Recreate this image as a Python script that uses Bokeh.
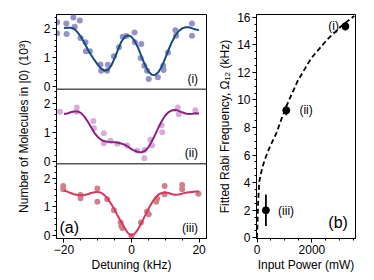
from bokeh.plotting import figure
from bokeh.models import FixedTicker, Range1d, Span, Label
from bokeh.layouts import row
from bokeh.embed import file_html
from bokeh.resources import INLINE

FONT = "Liberation Sans"

# ---------------- Panel (a): detuning scans ----------------
det_i = [-22.0, -22.0, -19.3, -19.2, -17.2, -16.8, -15.3, -15.1, -13.6, -13.5, -12.3,
         -9.2, -9.0, -7.2, -7.0, -5.2, -3.7, -2.6, -1.6, 0.9, 1.0, 2.9, 2.7, 3.8, 4.6,
         5.1, 7.8, 9.4, 9.5, 10.8, 13.0, 13.2, 17.9, 17.9]
mol_i = [2.22, 1.84, 2.18, 1.82, 2.39, 2.07, 2.28, 1.68, 1.53, 1.22, 1.22,
         0.76, 0.55, 0.55, 0.75, 1.05, 1.36, 1.72, 1.75, 1.87, 1.53, 1.47, 0.99, 0.72, 0.55,
         0.26, 0.32, 0.72, 0.57, 1.18, 1.95, 1.76, 2.18, 1.76]

det_ii = [-21.2, -16.2, -16.2, -11.3, -11.1, -8.2, -8.2, -6.2, -4.2, -1.3, 1.7, 3.8, 3.9,
          5.6, 6.1, 8.9, 9.1, 13.7, 14.0, 18.9]
mol_ii = [1.71, 1.86, 1.71, 1.39, 1.14, 0.97, 0.62, 0.71, 0.60, 0.54, 0.36, 0.10, 0.39,
          0.74, 0.54, 1.24, 1.00, 1.86, 1.62, 1.76]

det_iii = [-20.2, -20.2, -15.1, -15.1, -10.1, -10.1, -7.2, -5.2, -3.2, -3.0, -2.7, 0.0,
           2.8, 4.6, 5.1, 7.3, 7.6, 9.8, 9.8, 15.0, 15.0, 19.8]
mol_iii = [1.72, 1.61, 1.41, 1.30, 1.64, 1.18, 1.27, 0.89, 0.46, 0.34, 0.27, 0.0,
           0.46, 0.84, 0.75, 1.18, 1.28, 1.72, 1.44, 1.76, 1.61, 1.46]

fit_det = [-20, -19, -18, -17, -16, -15, -14, -13, -12, -11, -10, -9, -8, -7, -6, -5, -4,
           -3, -2, -1, 0, 1, 2, 3, 4, 5, 6, 7, 8, 9, 10, 11, 12, 13, 14, 15, 16, 17, 18, 19, 20]
fit_i = [2.02, 2.03, 2.03, 2.00, 1.88, 1.72, 1.52, 1.30, 1.10, 0.92, 0.76, 0.62, 0.55, 0.57,
         0.72, 0.98, 1.28, 1.55, 1.72, 1.77, 1.72, 1.56, 1.33, 1.03, 0.74, 0.52, 0.41, 0.40,
         0.50, 0.70, 0.98, 1.28, 1.55, 1.77, 1.92, 2.01, 2.05, 2.05, 2.01, 1.97, 1.95]
fit_ii = [1.63, 1.65, 1.69, 1.72, 1.72, 1.67, 1.55, 1.38, 1.18, 0.98, 0.84, 0.74, 0.69, 0.67,
          0.66, 0.66, 0.64, 0.61, 0.57, 0.50, 0.42, 0.36, 0.32, 0.31, 0.36, 0.48, 0.68, 0.92,
          1.17, 1.40, 1.58, 1.70, 1.76, 1.77, 1.74, 1.69, 1.65, 1.63, 1.64, 1.66, 1.65]
fit_iii = [1.57, 1.53, 1.48, 1.44, 1.41, 1.40, 1.41, 1.44, 1.48, 1.51, 1.52, 1.49, 1.41, 1.28,
           1.10, 0.90, 0.68, 0.46, 0.26, 0.09, 0.01, 0.08, 0.24, 0.46, 0.70, 0.93, 1.14, 1.31,
           1.43, 1.49, 1.50, 1.48, 1.44, 1.42, 1.43, 1.46, 1.49, 1.51, 1.52, 1.53, 1.53]

panel_tags = ["(i)", "(ii)", "(iii)"]
x_tick_labels = {-20: "\u221220", 0: "0", 20: "20"}

# ---------------- Panel (b): Rabi frequency vs power ----------------
power = [323, 1066, 3221]
rabi = [2.0, 9.25, 15.34]
rabi_err = [1.15, 0.35, 0.30]
curve_power = [0, 40, 83, 180, 287, 467, 707, 887, 1102, 1486, 1964, 2564, 3041, 3544]
curve_rabi = [0.0, 2.6, 4.1, 5.0, 5.7, 6.6, 7.6, 8.6, 9.7, 11.4, 13.0, 14.4, 15.3, 16.1]
b_tags = ["(iii)", "(ii)", "(i)"]

# ---------------- styling helpers ----------------
def style(p):
    p.xgrid.visible = False
    p.ygrid.visible = False
    p.outline_line_color = "black"
    p.outline_line_width = 1
    p.background_fill_color = "white"
    p.border_fill_color = "white"
    for ax in [p.xaxis[0], p.yaxis[0]]:
        ax.axis_line_color = "black"
        ax.major_tick_in = 0
        ax.major_tick_out = 4
        ax.minor_tick_in = 0
        ax.minor_tick_out = 2
        ax.major_tick_line_color = "black"
        ax.minor_tick_line_color = "black"
        ax.major_label_text_font = FONT
        ax.major_label_text_font_size = "12px"
        ax.major_label_text_color = "black"
        ax.axis_label_text_font = FONT
        ax.axis_label_text_font_size = "12px"
        ax.axis_label_text_font_style = "normal"
        ax.axis_label_text_color = "black"
        ax.major_label_standoff = 2

PANEL_SPAN = 2.58
Y_BOTTOM = -0.09
offsets = [2 * PANEL_SPAN, PANEL_SPAN, 0.0]

left = figure(width=215, height=278,
              x_range=Range1d(-22.2, 22.2),
              y_range=Range1d(Y_BOTTOM, Y_BOTTOM + 3 * PANEL_SPAN),
              output_backend="svg", toolbar_location=None,
              min_border_left=56, min_border_right=9, min_border_top=14, min_border_bottom=40)
style(left)

series = [
    (det_i, mol_i, fit_i, "#9394c4", "#174a82"),
    (det_ii, mol_ii, fit_ii, "#d8abd9", "#8a1f84"),
    (det_iii, mol_iii, fit_iii, "#d08088", "#d5395f"),
]
for k, (dx, my, fy, pc, lc) in enumerate(series):
    off = offsets[k]
    left.scatter(dx, [v + off for v in my], size=6, color=pc, line_color=None)
    left.line(fit_det, [v + off for v in fy], line_width=2, color=lc)
    left.add_layout(Label(x=19.7, y=off + 0.27, text=panel_tags[k], text_align="right",
                          text_baseline="middle", text_font=FONT, text_font_size="12px",
                          text_color="black"))

for k in (1, 2):
    left.add_layout(Span(location=Y_BOTTOM + k * PANEL_SPAN, dimension="width",
                         line_color="black", line_width=1))

left.add_layout(Label(x=-21.3, y=0.3, text="(a)", text_align="left", text_baseline="middle",
                      text_font=FONT, text_font_size="16px", text_color="black"))

ymaj, ymin, ylab = [], [], {}
for off in offsets:
    for v in (0, 1, 2):
        ymaj.append(off + v)
        ylab[off + v] = str(v)
    for v in (0.2, 0.4, 0.6, 0.8, 1.2, 1.4, 1.6, 1.8, 2.2, 2.4):
        ymin.append(off + v)
left.yaxis.ticker = FixedTicker(ticks=ymaj, minor_ticks=ymin)
left.yaxis.major_label_overrides = ylab
left.xaxis.ticker = FixedTicker(ticks=[-20, 0, 20], minor_ticks=[-15, -10, -5, 5, 10, 15])
left.xaxis.major_label_overrides = x_tick_labels
left.xaxis.axis_label = "Detuning (kHz)"
left.yaxis.axis_label = "Number of Molecules in |0\u27e9 (10\u00b3)"
left.xaxis.axis_label_standoff = 1
left.yaxis.axis_label_standoff = 10

right = figure(width=159, height=278,
               x_range=Range1d(-20, 3590), y_range=Range1d(-0.05, 16.2),
               output_backend="svg", toolbar_location=None,
               min_border_left=39, min_border_right=19, min_border_top=14, min_border_bottom=40)
style(right)
right.line(curve_power, curve_rabi, line_dash="5 3", line_width=1.8, color="black")
right.segment(x0=power, y0=[r - e for r, e in zip(rabi, rabi_err)],
              x1=power, y1=[r + e for r, e in zip(rabi, rabi_err)],
              line_width=1.8, color="black")
right.scatter(power, rabi, size=7, color="black")

b_pos = [(768, 1.96), (1544, 9.25), (2600, 15.4)]
for (bx, by), t in zip(b_pos, b_tags):
    right.add_layout(Label(x=bx, y=by, text=t, text_align="left", text_baseline="middle",
                           text_font=FONT, text_font_size="12px", text_color="black"))
right.add_layout(Label(x=2600, y=1.1, text="(b)", text_align="left", text_baseline="middle",
                       text_font=FONT, text_font_size="16px", text_color="black"))

right.xaxis.ticker = FixedTicker(ticks=[0, 2000], minor_ticks=[500, 1000, 1500, 2500, 3000, 3500])
right.yaxis.ticker = FixedTicker(ticks=[0, 2, 4, 6, 8, 10, 12, 14, 16],
                                 minor_ticks=[v + 0.5 * j for v in range(0, 16, 2) for j in (1, 2, 3)])
right.xaxis.axis_label = "Input Power (mW)"
right.yaxis.axis_label = "Fitted Rabi Frequency, \u03a9\u2081\u2082 (kHz)"
right.xaxis.axis_label_standoff = 1
right.yaxis.axis_label_standoff = 2

layout = row(left, right)
open("out.html", "w").write(file_html(layout, INLINE))
